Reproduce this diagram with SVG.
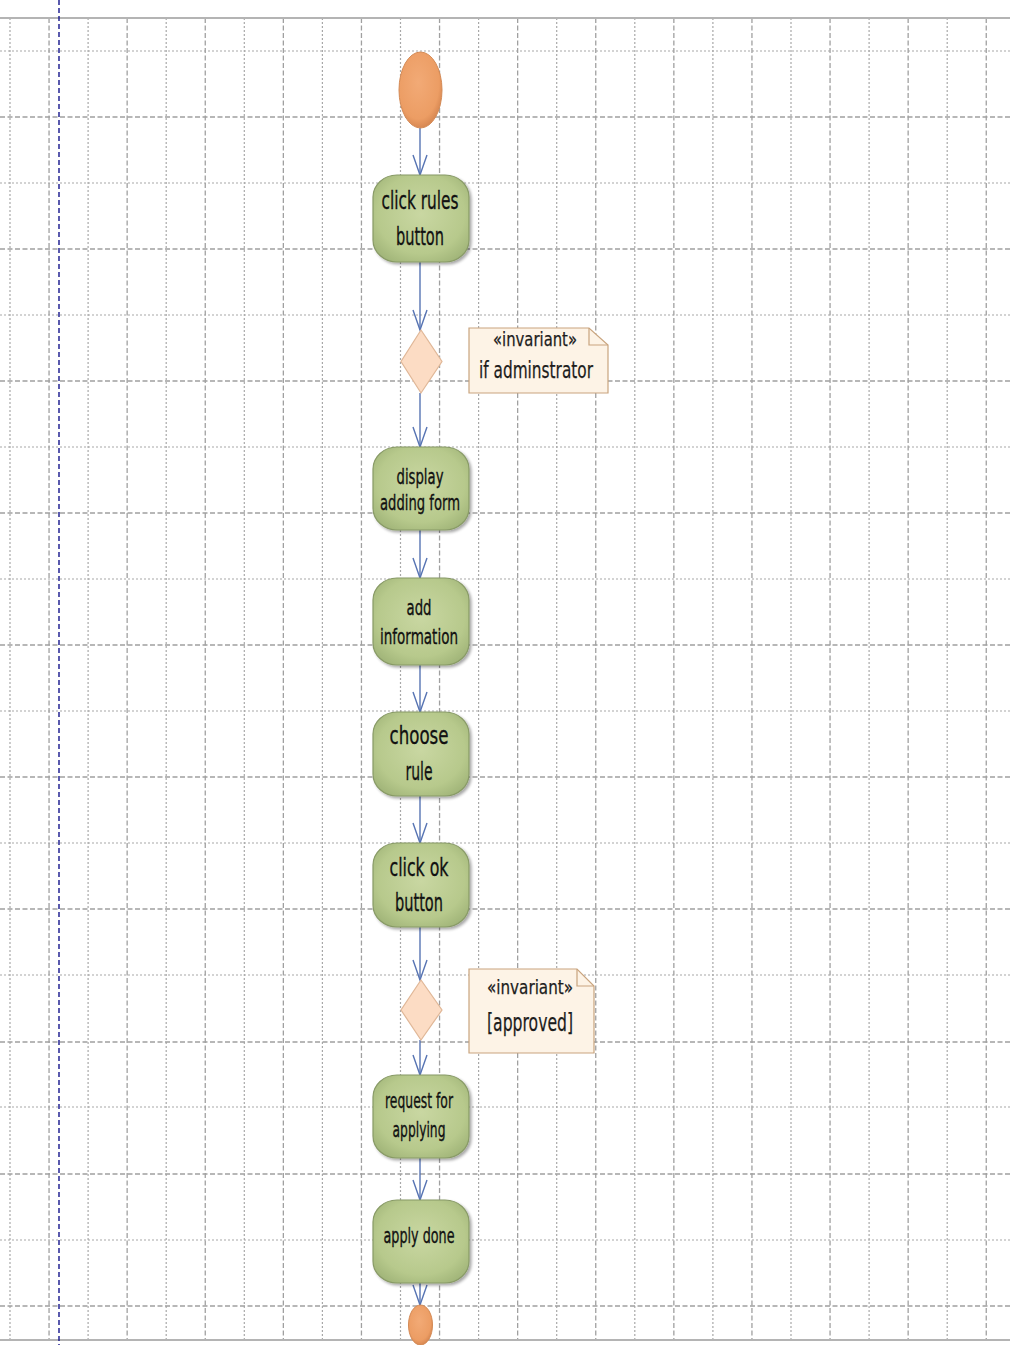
<svg xmlns="http://www.w3.org/2000/svg" width="1010" height="1345" viewBox="0 0 1010 1345">
  <style>
    .gdot { stroke: #a8a8a8; stroke-width: 1.2; stroke-dasharray: 2 2; fill: none; }
    .gdash { stroke: #a0a0a0; stroke-width: 1.3; stroke-dasharray: 5 2.5; fill: none; }
    .border { stroke: #b4b4b4; stroke-width: 2; }
    .action { fill: url(#actFill); stroke: #889a66; stroke-width: 1.2; filter: url(#shadow); }
    .lbl { font-family: "DejaVu Sans", "Liberation Sans", sans-serif; fill: #111; stroke: #111; stroke-width: 0.35; text-anchor: middle; }
    .big { font-size: 25px; }
    .small { font-size: 21px; }
    .flow { stroke: #5774b3; stroke-width: 1.4; fill: none; marker-end: url(#openArrow); }
    .decision { fill: #fcdcc4; stroke: #e0b797; stroke-width: 1.2; }
    .note { fill: #fdf3e6; stroke: #c9a47e; stroke-width: 1.2; }
    .ntxt { font-family: "DejaVu Sans", "Liberation Sans", sans-serif; fill: #1c1c1c; stroke: #1c1c1c; stroke-width: 0.25; }
  </style>
  <defs>
    <radialGradient id="actFill" cx="50%" cy="45%" r="65%">
      <stop offset="0" stop-color="#c9d7a2"/>
      <stop offset="0.7" stop-color="#b7c98c"/>
      <stop offset="1" stop-color="#9fb377"/>
    </radialGradient>
    <radialGradient id="initFill" cx="45%" cy="40%" r="60%">
      <stop offset="0" stop-color="#f2aa76"/>
      <stop offset="0.8" stop-color="#ec9d64"/>
      <stop offset="1" stop-color="#d88852"/>
    </radialGradient>
    <filter id="shadow" x="-20%" y="-20%" width="150%" height="150%">
      <feGaussianBlur in="SourceAlpha" stdDeviation="1.5"/>
      <feOffset dx="2" dy="2" result="b"/>
      <feComponentTransfer><feFuncA type="linear" slope="0.35"/></feComponentTransfer>
      <feMerge><feMergeNode/><feMergeNode in="SourceGraphic"/></feMerge>
    </filter>
    <marker id="openArrow" markerUnits="userSpaceOnUse" markerWidth="24" markerHeight="18" viewBox="-22 -9 24 18" refX="0" refY="0" orient="auto">
      <path d="M-20,-7 L0,0 L-20,7" fill="none" stroke="#5774b3" stroke-width="1.4"/>
    </marker>
  </defs>

  <rect width="1010" height="1345" fill="#ffffff"/>

  <!-- background grid -->
  <g id="grid">
    <g class="gdot">
      <path d="M10,18V1340 M88.1,18V1340 M166.2,18V1340 M244.3,18V1340 M322.4,18V1340 M400.5,18V1340 M478.6,18V1340 M556.7,18V1340 M634.8,18V1340 M712.9,18V1340 M791,18V1340 M869.1,18V1340 M947.2,18V1340"/>
      <path d="M0,51H1010 M0,183H1010 M0,315H1010 M0,447H1010 M0,579H1010 M0,711H1010 M0,843H1010 M0,975H1010 M0,1107H1010 M0,1240H1010"/>
    </g>
    <g class="gdash">
      <path d="M49.05,18V1340 M127.15,18V1340 M205.25,18V1340 M283.35,18V1340 M361.45,18V1340 M439.55,18V1340 M517.65,18V1340 M595.75,18V1340 M673.85,18V1340 M751.95,18V1340 M830.05,18V1340 M908.15,18V1340 M986.25,18V1340"/>
      <path d="M0,117H1010 M0,249H1010 M0,381H1010 M0,513H1010 M0,645H1010 M0,777H1010 M0,909H1010 M0,1042H1010 M0,1174H1010 M0,1306H1010"/>
    </g>
    <line class="border" x1="0" y1="18" x2="1010" y2="18"/>
    <line class="border" x1="0" y1="1340" x2="1010" y2="1340"/>
    <line x1="59" y1="0" x2="59" y2="1345" stroke="#14148c" stroke-width="1.4" stroke-dasharray="5 3"/>
  </g>

  <!-- control flows -->
  <g id="connectors">
    <line class="flow" x1="420" y1="128" x2="420" y2="175"/>
    <line class="flow" x1="420" y1="262" x2="420" y2="330"/>
    <line class="flow" x1="420" y1="393" x2="420" y2="447"/>
    <line class="flow" x1="420" y1="530" x2="420" y2="578"/>
    <line class="flow" x1="420" y1="665" x2="420" y2="712"/>
    <line class="flow" x1="420" y1="795" x2="420" y2="843"/>
    <line class="flow" x1="420" y1="927" x2="420" y2="980"/>
    <line class="flow" x1="420" y1="1040" x2="420" y2="1075"/>
    <line class="flow" x1="420" y1="1158" x2="420" y2="1200"/>
    <line class="flow" x1="420" y1="1283" x2="420" y2="1305"/>
  </g>

  <g id="start">
    <ellipse cx="420.5" cy="90" rx="21.5" ry="38" fill="url(#initFill)" stroke="#d48a55" stroke-width="1"/>
  </g>

  <g id="click-rules-button">
    <rect class="action" x="373" y="175" width="96" height="87" rx="24" ry="22"/>
    <text class="lbl big" x="420" y="209" textLength="77" lengthAdjust="spacingAndGlyphs">click rules</text>
    <text class="lbl big" x="420" y="245" textLength="48" lengthAdjust="spacingAndGlyphs">button</text>
  </g>

  <g id="decision-admin">
    <polygon class="decision" points="421,330 442,361.5 421,393 401,361.5"/>
  </g>

  <g id="note-admin">
    <path class="note" d="M469,328 H589 L608,345 V393 H469 Z"/>
    <path d="M589,328 V345 H608" fill="none" stroke="#c9a47e" stroke-width="1.2"/>
    <text class="ntxt" x="535" y="346" font-size="19" text-anchor="middle" textLength="84" lengthAdjust="spacingAndGlyphs">«invariant»</text>
    <text class="ntxt" x="536" y="378" font-size="23" text-anchor="middle" textLength="114" lengthAdjust="spacingAndGlyphs">if adminstrator</text>
  </g>

  <g id="display-adding-form">
    <rect class="action" x="373" y="447" width="96" height="83" rx="24" ry="22"/>
    <text class="lbl small" x="420" y="484" textLength="47" lengthAdjust="spacingAndGlyphs">display</text>
    <text class="lbl small" x="420" y="510" textLength="80" lengthAdjust="spacingAndGlyphs">adding form</text>
  </g>

  <g id="add-information">
    <rect class="action" x="373" y="578" width="96" height="87" rx="24" ry="22"/>
    <text class="lbl small" x="419" y="615" textLength="25" lengthAdjust="spacingAndGlyphs">add</text>
    <text class="lbl small" x="419" y="644" textLength="78" lengthAdjust="spacingAndGlyphs">information</text>
  </g>

  <g id="choose-rule">
    <rect class="action" x="373" y="712" width="96" height="84" rx="24" ry="22"/>
    <text class="lbl big" x="419" y="744" textLength="59" lengthAdjust="spacingAndGlyphs">choose</text>
    <text class="lbl big" x="419" y="780" textLength="27" lengthAdjust="spacingAndGlyphs">rule</text>
  </g>

  <g id="click-ok-button">
    <rect class="action" x="373" y="843" width="96" height="84" rx="24" ry="22"/>
    <text class="lbl big" x="419" y="876" textLength="59" lengthAdjust="spacingAndGlyphs">click ok</text>
    <text class="lbl big" x="419" y="911" textLength="48" lengthAdjust="spacingAndGlyphs">button</text>
  </g>

  <g id="decision-approved">
    <polygon class="decision" points="421,980 442,1010 421,1040 401,1010"/>
  </g>

  <g id="note-approved">
    <path class="note" d="M469,969 H577 L594,986 V1053 H469 Z"/>
    <path d="M577,969 V986 H594" fill="none" stroke="#c9a47e" stroke-width="1.2"/>
    <text class="ntxt" x="530" y="994" font-size="19" text-anchor="middle" textLength="86" lengthAdjust="spacingAndGlyphs">«invariant»</text>
    <text class="ntxt" x="530" y="1031" font-size="25" text-anchor="middle" textLength="86" lengthAdjust="spacingAndGlyphs">[approved]</text>
  </g>

  <g id="request-for-applying">
    <rect class="action" x="373" y="1075" width="96" height="83" rx="24" ry="22"/>
    <text class="lbl small" x="419" y="1108" textLength="68" lengthAdjust="spacingAndGlyphs">request for</text>
    <text class="lbl small" x="419" y="1137" textLength="53" lengthAdjust="spacingAndGlyphs">applying</text>
  </g>

  <g id="apply-done">
    <rect class="action" x="373" y="1200" width="96" height="83" rx="24" ry="22"/>
    <text class="lbl small" x="419" y="1243" textLength="71" lengthAdjust="spacingAndGlyphs">apply done</text>
  </g>

  <g id="end">
    <ellipse cx="420.5" cy="1325" rx="12" ry="20" fill="url(#initFill)" stroke="#d48a55" stroke-width="1"/>
  </g>
</svg>
